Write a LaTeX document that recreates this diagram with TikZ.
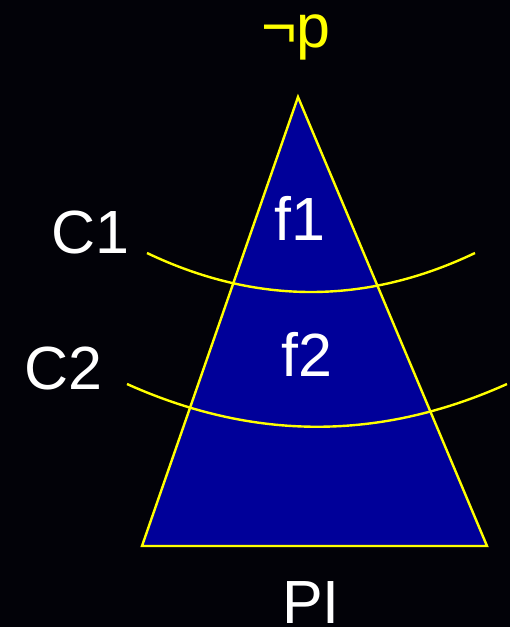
\documentclass[tikz,border=0pt]{standalone}
\usepackage{fontspec}
\setmainfont{Liberation Sans}
\definecolor{bgblack}{RGB}{2,2,8}
\definecolor{fillblue}{RGB}{0,0,153}
\definecolor{lineyellow}{RGB}{255,255,0}
\tikzset{
  lbl/.style={anchor=base, inner sep=0pt, font=\fontsize{61}{61}\selectfont, text=white},
  ylbl/.style={lbl, text=lineyellow},
  edge/.style={draw=lineyellow, line width=2.4pt}
}
\begin{document}
\begin{tikzpicture}[x=1pt,y=-1pt]
\fill[bgblack] (0,0) rectangle (510,627);
\useasboundingbox (0,0) rectangle (510,627);
\coordinate (apex) at (298,97);
\coordinate (bl) at (142,546);
\coordinate (br) at (487,546);
\filldraw[edge, fill=fillblue, line join=miter] (apex) -- (br) -- (bl) -- cycle;
\coordinate (c1a) at (147,253);
\coordinate (c1b) at (475,253);
\coordinate (c2a) at (127,384);
\coordinate (c2b) at (507,384);
\draw[edge] (c1a) .. controls (256,305) and (366,305) .. (c1b);
\draw[edge] (c2a) .. controls (254,441) and (380,441) .. (c2b);
\node[ylbl] (negp) at (296,47) {¬p};
\node[lbl] (C1) at (90,253) {C1};
\node[lbl] (C2) at (63,389) {C2};
\node[lbl] (f1) at (300,240) {f1};
\node[lbl] (f2) at (307,376) {f2};
\node[lbl] (PI) at (311,623) {PI};
\end{tikzpicture}
\end{document}
